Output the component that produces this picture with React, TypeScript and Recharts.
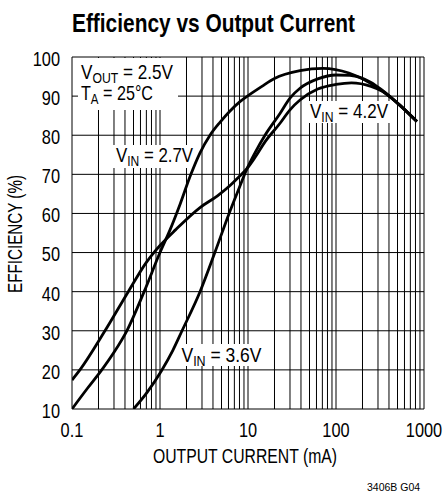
import React from 'react';
import { LineChart, Line, XAxis, YAxis, CartesianGrid, Customized } from 'recharts';

// output current (mA) vs efficiency (%)
const current27 = [0.1, 0.15, 0.218, 0.3, 0.42, 0.66, 1, 1.3, 1.7, 2.2, 2.85, 3.7, 4.8, 6.25, 8.1, 10.6, 14.4, 20, 39, 71, 140, 340, 530, 830];
const eff27 = [10, 15.3, 20, 24.5, 30, 40, 50, 55.8, 62.5, 69.5, 75.5, 80, 83.3, 86.2, 88.6, 90.5, 92.5, 94.5, 96.5, 97.1, 95.9, 91.2, 87.7, 83.5];

const current36 = [0.5, 0.71, 1.04, 1.4, 1.78, 2.85, 4.2, 6.1, 8.1, 9.6, 12, 15.6, 23, 30, 39, 62, 100, 144, 250, 340, 530, 830];
const eff36 = [10, 14.2, 19.8, 25, 30, 40, 50, 60, 67, 71.1, 75.5, 80, 85.5, 89.5, 92, 94.4, 95.4, 95.3, 93.5, 91.4, 87.7, 83.5];

const current42 = [0.1, 0.123, 0.237, 0.436, 0.7, 0.875, 1, 1.5, 2.85, 4.5, 6.3, 8, 9.6, 12, 15.6, 23, 30, 39, 62, 100, 150, 250, 340, 530, 830];
const eff42 = [17.4, 20, 30, 40, 47.5, 50.3, 51.8, 55.8, 61.5, 64.5, 67.2, 69.5, 71.3, 74.3, 78.3, 83, 86.5, 89, 91.8, 93, 93.4, 92.5, 91.2, 87.7, 83.5];

const xTicks = [0.1, 1, 10, 100, 1000];
const yTicks = [10, 20, 30, 40, 50, 60, 70, 80, 90, 100];
const decades = [0.1, 1, 10, 100];
const gridX = [...decades.flatMap(d => [1, 2, 3, 4, 5, 6, 7, 8, 9].map(m => +(d * m).toPrecision(2))), 1000];

const toPoints = (xs: number[], ys: number[]) => xs.map((x, i) => ({ x, y: ys[i] }));

const FONT = "'Liberation Sans Narrow', 'Liberation Sans', Arial, sans-serif";
const SQUEEZE = 0.84;

const XTick = ({ x, y, payload }: any) => (
  <g transform={`translate(${x},${y}) scale(${SQUEEZE},1)`}>
    <text textAnchor="middle" dy="0.71em" fontSize={19.5} fontFamily={FONT} fill="#000">
      {String(payload.value)}
    </text>
  </g>
);

const YTick = ({ x, y, payload }: any) => (
  <g transform={`translate(${x},${y + 2}) scale(${SQUEEZE},1)`}>
    <text textAnchor="end" dy="0.355em" fontSize={19.5} fontFamily={FONT} fill="#000">
      {String(payload.value)}
    </text>
  </g>
);

const Label = ({ x, y, len, main, sub, rest }: { x: number; y: number; len: number; main: string; sub: string; rest: string }) => (
  <text x={x} y={y} fontSize={21} fontFamily={FONT} fill="#000" textLength={len} lengthAdjust="spacingAndGlyphs">
    {main}
    <tspan dy={4} fontSize={15}>{sub}</tspan>
    <tspan dy={-4}>{rest}</tspan>
  </text>
);

const Annotations = () => (
  <g>
    <rect x={78} y={58} width={100} height={52} fill="#fff" />
    <Label x={81} y={79} len={92} main="V" sub="OUT" rest=" =  2.5V" />
    <Label x={81} y={100} len={72} main="T" sub="A" rest=" = 25°C" />

    <rect x={113} y={145} width={80} height={23} fill="#fff" />
    <Label x={116} y={161.5} len={77} main="V" sub="IN" rest=" = 2.7V" />

    <rect x={307} y={101} width={86} height={22} fill="#fff" />
    <Label x={310} y={118} len={78} main="V" sub="IN" rest=" = 4.2V" />

    <rect x={178} y={344} width={87} height={22} fill="#fff" />
    <Label x={181.5} y={361.5} len={80} main="V" sub="IN" rest=" = 3.6V" />
  </g>
);

const Texts = () => (
  <g fill="#000">
    <text x={72} y={31.5} fontFamily={FONT} fontWeight="bold" fontSize={25} textLength={283} lengthAdjust="spacingAndGlyphs">
      Efficiency vs Output Current
    </text>
    <text x={153} y={463} fontFamily={FONT} fontSize={19.5} textLength={184} lengthAdjust="spacingAndGlyphs">
      OUTPUT CURRENT (mA)
    </text>
    <text x={22} y={293} transform="rotate(-90 22 293)" fontFamily={FONT} fontSize={19.5} textLength={118} lengthAdjust="spacingAndGlyphs">
      EFFICIENCY (%)
    </text>
    <text x={367} y={491} fontFamily="'Liberation Sans', Arial, sans-serif" fontSize={10.5}>
      3406B G04
    </text>
  </g>
);

export default function App() {
  return (
    <div style={{ position: 'absolute', left: 0, top: 0, width: 443, height: 494, background: '#fff' }}>
      <LineChart width={443} height={494} margin={{ top: 57, right: 19, bottom: 55, left: 12 }}>
        {/* hidden axis only carries the log minor ticks for the grid */}
        <XAxis
          xAxisId="grid"
          dataKey="x"
          type="number"
          scale="log"
          domain={[0.1, 1000]}
          ticks={gridX}
          interval={0}
          allowDataOverflow
          hide
        />
        <CartesianGrid xAxisId="grid" stroke="#000" strokeWidth={1} />
        <XAxis
          dataKey="x"
          type="number"
          scale="log"
          domain={[0.1, 1000]}
          ticks={xTicks}
          allowDataOverflow
          height={30}
          tickLine={false}
          axisLine={false}
          tick={<XTick />}
          tickMargin={8}
        />
        <YAxis
          type="number"
          domain={[10, 100]}
          ticks={yTicks}
          allowDataOverflow
          width={60}
          tickLine={false}
          axisLine={false}
          tick={<YTick />}
          tickMargin={6}
        />
        <Customized component={<Annotations />} />
        <Customized component={<Texts />} />
        <Line data={toPoints(current42, eff42)} dataKey="y" type="monotone" stroke="#000" strokeWidth={2.8} dot={false} isAnimationActive={false} />
        <Line data={toPoints(current36, eff36)} dataKey="y" type="monotone" stroke="#000" strokeWidth={2.8} dot={false} isAnimationActive={false} />
        <Line data={toPoints(current27, eff27)} dataKey="y" type="monotone" stroke="#000" strokeWidth={2.8} dot={false} isAnimationActive={false} />
      </LineChart>
    </div>
  );
}
